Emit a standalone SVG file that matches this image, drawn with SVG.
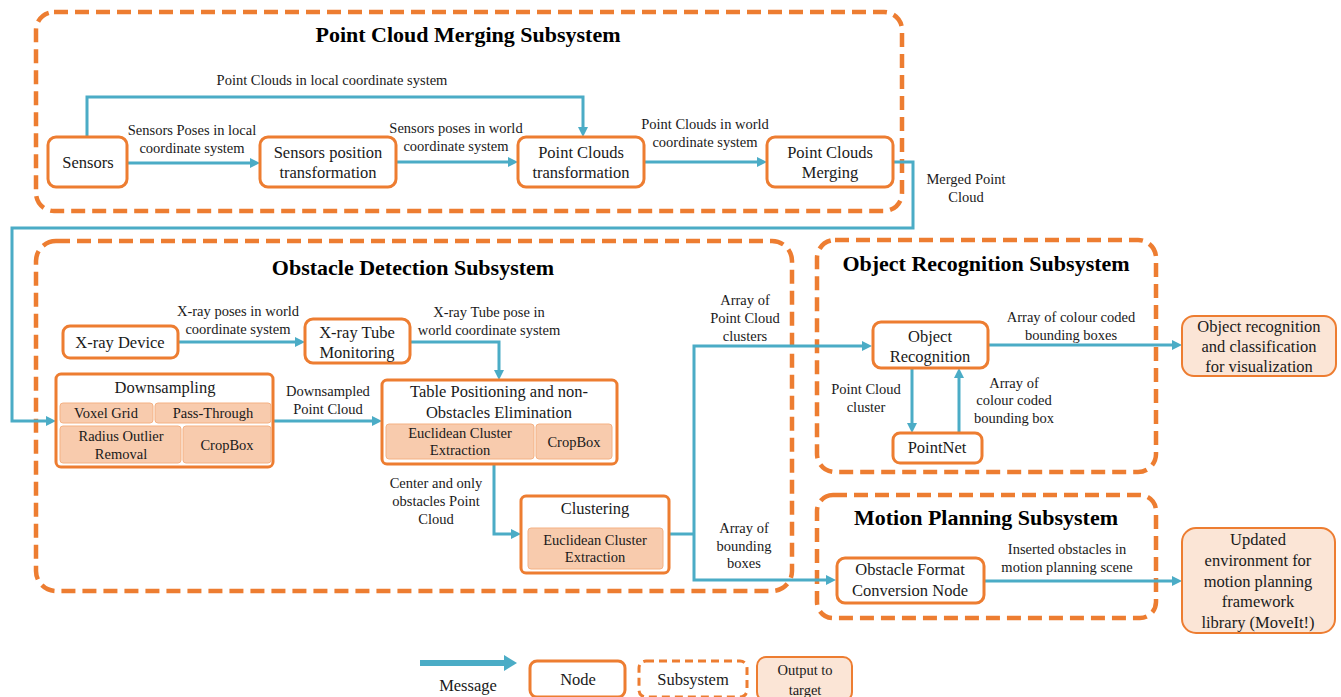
<svg xmlns="http://www.w3.org/2000/svg" width="1341" height="697" viewBox="0 0 1341 697">
<style>
text{font-family:"Liberation Serif","Times New Roman",serif;fill:#1a1a1a;text-anchor:middle}
.t{font-size:22px;font-weight:bold;fill:#000}
.n{font-size:16.5px}
.l{font-size:14.5px}
.s{font-size:14.5px}
.sub{fill:none;stroke:#ED7D31;stroke-width:4.5;stroke-dasharray:14 7}
.node{fill:#fff;stroke:#ED7D31;stroke-width:3}
.sb{fill:#F8CBAD;stroke:#F4B183;stroke-width:1}
.out{fill:#FBE5D6;stroke:#ED7D31;stroke-width:2}
.c{fill:none;stroke:#4BACC6;stroke-width:3;marker-end:url(#ah)}
.cn{fill:none;stroke:#4BACC6;stroke-width:3}
</style>
<defs>
<marker id="ah" markerUnits="userSpaceOnUse" markerWidth="10" markerHeight="10" refX="2" refY="5" orient="auto"><path d="M0,0 L10,5 L0,10 z" fill="#4BACC6"/></marker>
</defs>
<rect width="1341" height="697" fill="#fff"/>

<g id="sub-merging">
<rect class="sub" x="36" y="12" width="866" height="199" rx="18"/>
<text class="t" x="468" y="42">Point Cloud Merging Subsystem</text>
</g>
<g id="sub-obstacle">
<rect class="sub" x="36" y="241" width="756" height="350" rx="20"/>
<text class="t" x="413" y="275">Obstacle Detection Subsystem</text>
</g>
<g id="sub-objrec">
<rect class="sub" x="817" y="240" width="339" height="232" rx="18"/>
<text class="t" x="986" y="271">Object Recognition Subsystem</text>
</g>
<g id="sub-motion">
<rect class="sub" x="817" y="495" width="339" height="123" rx="16"/>
<text class="t" x="986" y="525">Motion Planning Subsystem</text>
</g>

<g id="connectors">
<path class="c" d="M87,137 V97 H583 V129"/>
<path class="c" d="M127,163 H252"/>
<path class="c" d="M396,162 H510"/>
<path class="c" d="M644,162 H759"/>
<path class="c" d="M893,162 H913 V228 H12 V421 H48"/>
<path class="c" d="M178,342 H297"/>
<path class="c" d="M410,342 H499 V372"/>
<path class="c" d="M273,421 H374"/>
<path class="c" d="M494,464 V534 H513"/>
<path class="cn" d="M669,534 H694" stroke-width="4"/>
<path class="c" d="M694,534 V346 H864"/>
<path class="c" d="M694,534 V580 H828"/>
<path class="c" d="M988,345 H1174"/>
<path class="c" d="M912,368 V425"/>
<path class="c" d="M959,433 V376"/>
<path class="c" d="M984,581 H1174"/>
<g id="connector-labels">
<text class="l" x="332" y="85">Point Clouds in local coordinate system</text>
<text class="l" x="192" y="135">Sensors Poses in local</text>
<text class="l" x="192" y="153">coordinate system</text>
<text class="l" x="456" y="133">Sensors poses in world</text>
<text class="l" x="456" y="151">coordinate system</text>
<text class="l" x="705" y="129">Point Clouds in world</text>
<text class="l" x="705" y="147">coordinate system</text>
<text class="l" x="966" y="184">Merged Point</text>
<text class="l" x="966" y="202">Cloud</text>
<text class="l" x="238" y="316">X-ray poses in world</text>
<text class="l" x="238" y="334">coordinate system</text>
<text class="l" x="489" y="317">X-ray Tube pose in</text>
<text class="l" x="489" y="335">world coordinate system</text>
<text class="l" x="328" y="396">Downsampled</text>
<text class="l" x="328" y="414">Point Cloud</text>
<text class="l" x="436" y="488">Center and only</text>
<text class="l" x="436" y="506">obstacles Point</text>
<text class="l" x="436" y="524">Cloud</text>
<text class="l" x="745" y="305">Array of</text>
<text class="l" x="745" y="323">Point Cloud</text>
<text class="l" x="745" y="341">clusters</text>
<text class="l" x="744" y="533">Array of</text>
<text class="l" x="744" y="551">bounding</text>
<text class="l" x="744" y="568">boxes</text>
<text class="l" x="1071" y="322">Array of colour coded</text>
<text class="l" x="1071" y="340">bounding boxes</text>
<text class="l" x="866" y="394">Point Cloud</text>
<text class="l" x="866" y="412">cluster</text>
<text class="l" x="1014" y="388">Array of</text>
<text class="l" x="1014" y="405">colour coded</text>
<text class="l" x="1014" y="423">bounding box</text>
<text class="l" x="1067" y="554">Inserted obstacles in</text>
<text class="l" x="1067" y="572">motion planning scene</text>
</g>
</g>

<g id="n-sensors">
<rect class="node" x="48" y="137" width="79" height="50" rx="8"/>
<text class="n" x="88" y="168">Sensors</text>
</g>
<g id="n-sensors-pos">
<rect class="node" x="260" y="137" width="136" height="50" rx="8"/>
<text class="n" x="328" y="158">Sensors  position</text>
<text class="n" x="328" y="178">transformation</text>
</g>
<g id="n-pc-transform">
<rect class="node" x="518" y="137" width="126" height="50" rx="8"/>
<text class="n" x="581" y="158">Point  Clouds</text>
<text class="n" x="581" y="178">transformation</text>
</g>
<g id="n-pc-merging">
<rect class="node" x="767" y="137" width="126" height="50" rx="8"/>
<text class="n" x="830" y="158">Point  Clouds</text>
<text class="n" x="830" y="178">Merging</text>
</g>
<g id="n-xray-device">
<rect class="node" x="63" y="326" width="115" height="32" rx="7"/>
<text class="n" x="120" y="348">X-ray  Device</text>
</g>
<g id="n-xray-tube">
<rect class="node" x="305" y="319" width="105" height="44" rx="8"/>
<text class="n" x="357" y="338">X-ray  Tube</text>
<text class="n" x="357" y="358">Monitoring</text>
</g>
<g id="n-downsampling">
<rect class="node" x="56" y="374" width="217" height="93" rx="5"/>
<text class="n" x="165" y="393">Downsampling</text>
<rect class="sb" x="60" y="403" width="93" height="20" rx="3"/>
<text class="s" x="106" y="418">Voxel Grid</text>
<rect class="sb" x="155" y="403" width="116" height="20" rx="3"/>
<text class="s" x="213" y="418">Pass-Through</text>
<rect class="sb" x="60" y="426" width="121" height="37" rx="3"/>
<text class="s" x="121" y="441">Radius Outlier</text>
<text class="s" x="121" y="459">Removal</text>
<rect class="sb" x="183" y="426" width="88" height="37" rx="3"/>
<text class="s" x="227" y="450">CropBox</text>
</g>
<g id="n-table">
<rect class="node" x="382" y="380" width="235" height="84" rx="5"/>
<text class="n" x="499" y="397">Table Positioning  and non-</text>
<text class="n" x="499" y="418">Obstacles  Elimination</text>
<rect class="sb" x="386" y="424" width="148" height="35" rx="3"/>
<text class="s" x="460" y="438">Euclidean Cluster</text>
<text class="s" x="460" y="455">Extraction</text>
<rect class="sb" x="536" y="424" width="76" height="35" rx="3"/>
<text class="s" x="574" y="447">CropBox</text>
</g>
<g id="n-clustering">
<rect class="node" x="521" y="496" width="148" height="77" rx="5"/>
<text class="n" x="595" y="514">Clustering</text>
<rect class="sb" x="528" y="528" width="135" height="41" rx="3"/>
<text class="s" x="595" y="545">Euclidean Cluster</text>
<text class="s" x="595" y="562">Extraction</text>
</g>
<g id="n-objrec">
<rect class="node" x="873" y="322" width="115" height="46" rx="8"/>
<text class="n" x="930" y="342">Object</text>
<text class="n" x="930" y="362">Recognition</text>
</g>
<g id="n-pointnet">
<rect class="node" x="893" y="433" width="89" height="30" rx="7"/>
<text class="n" x="937" y="453">PointNet</text>
</g>
<g id="n-obstacle-format">
<rect class="node" x="837" y="558" width="147" height="45" rx="8"/>
<text class="n" x="910" y="575">Obstacle  Format</text>
<text class="n" x="910" y="596">Conversion  Node</text>
</g>
<g id="o-visualization">
<rect class="out" x="1182" y="316" width="154" height="60" rx="12"/>
<text class="n" x="1259" y="332">Object  recognition</text>
<text class="n" x="1259" y="352">and  classification</text>
<text class="n" x="1259" y="372">for  visualization</text>
</g>
<g id="o-moveit">
<rect class="out" x="1182" y="528" width="153" height="105" rx="14"/>
<text class="n" x="1258" y="545">Updated</text>
<text class="n" x="1258" y="566">environment  for</text>
<text class="n" x="1258" y="587">motion  planning</text>
<text class="n" x="1258" y="607">framework</text>
<text class="n" x="1258" y="628">library  (MoveIt!)</text>
</g>

<g id="legend">
<line x1="420" y1="663" x2="506" y2="663" stroke="#4BACC6" stroke-width="6"/>
<polygon points="504,655 517,663 504,671" fill="#4BACC6"/>
<text class="n" x="468" y="691">Message</text>
<rect class="node" x="530" y="661" width="95" height="36" rx="7"/>
<text class="n" x="578" y="685">Node</text>
<rect x="639" y="661" width="108" height="36" rx="7" fill="none" stroke="#ED7D31" stroke-width="3" stroke-dasharray="8 5"/>
<text class="n" x="693" y="685">Subsystem</text>
<rect class="out" x="757" y="657" width="95" height="44" rx="9"/>
<text class="s" x="805" y="675">Output to</text>
<text class="s" x="805" y="695">target</text>
</g>
</svg>
